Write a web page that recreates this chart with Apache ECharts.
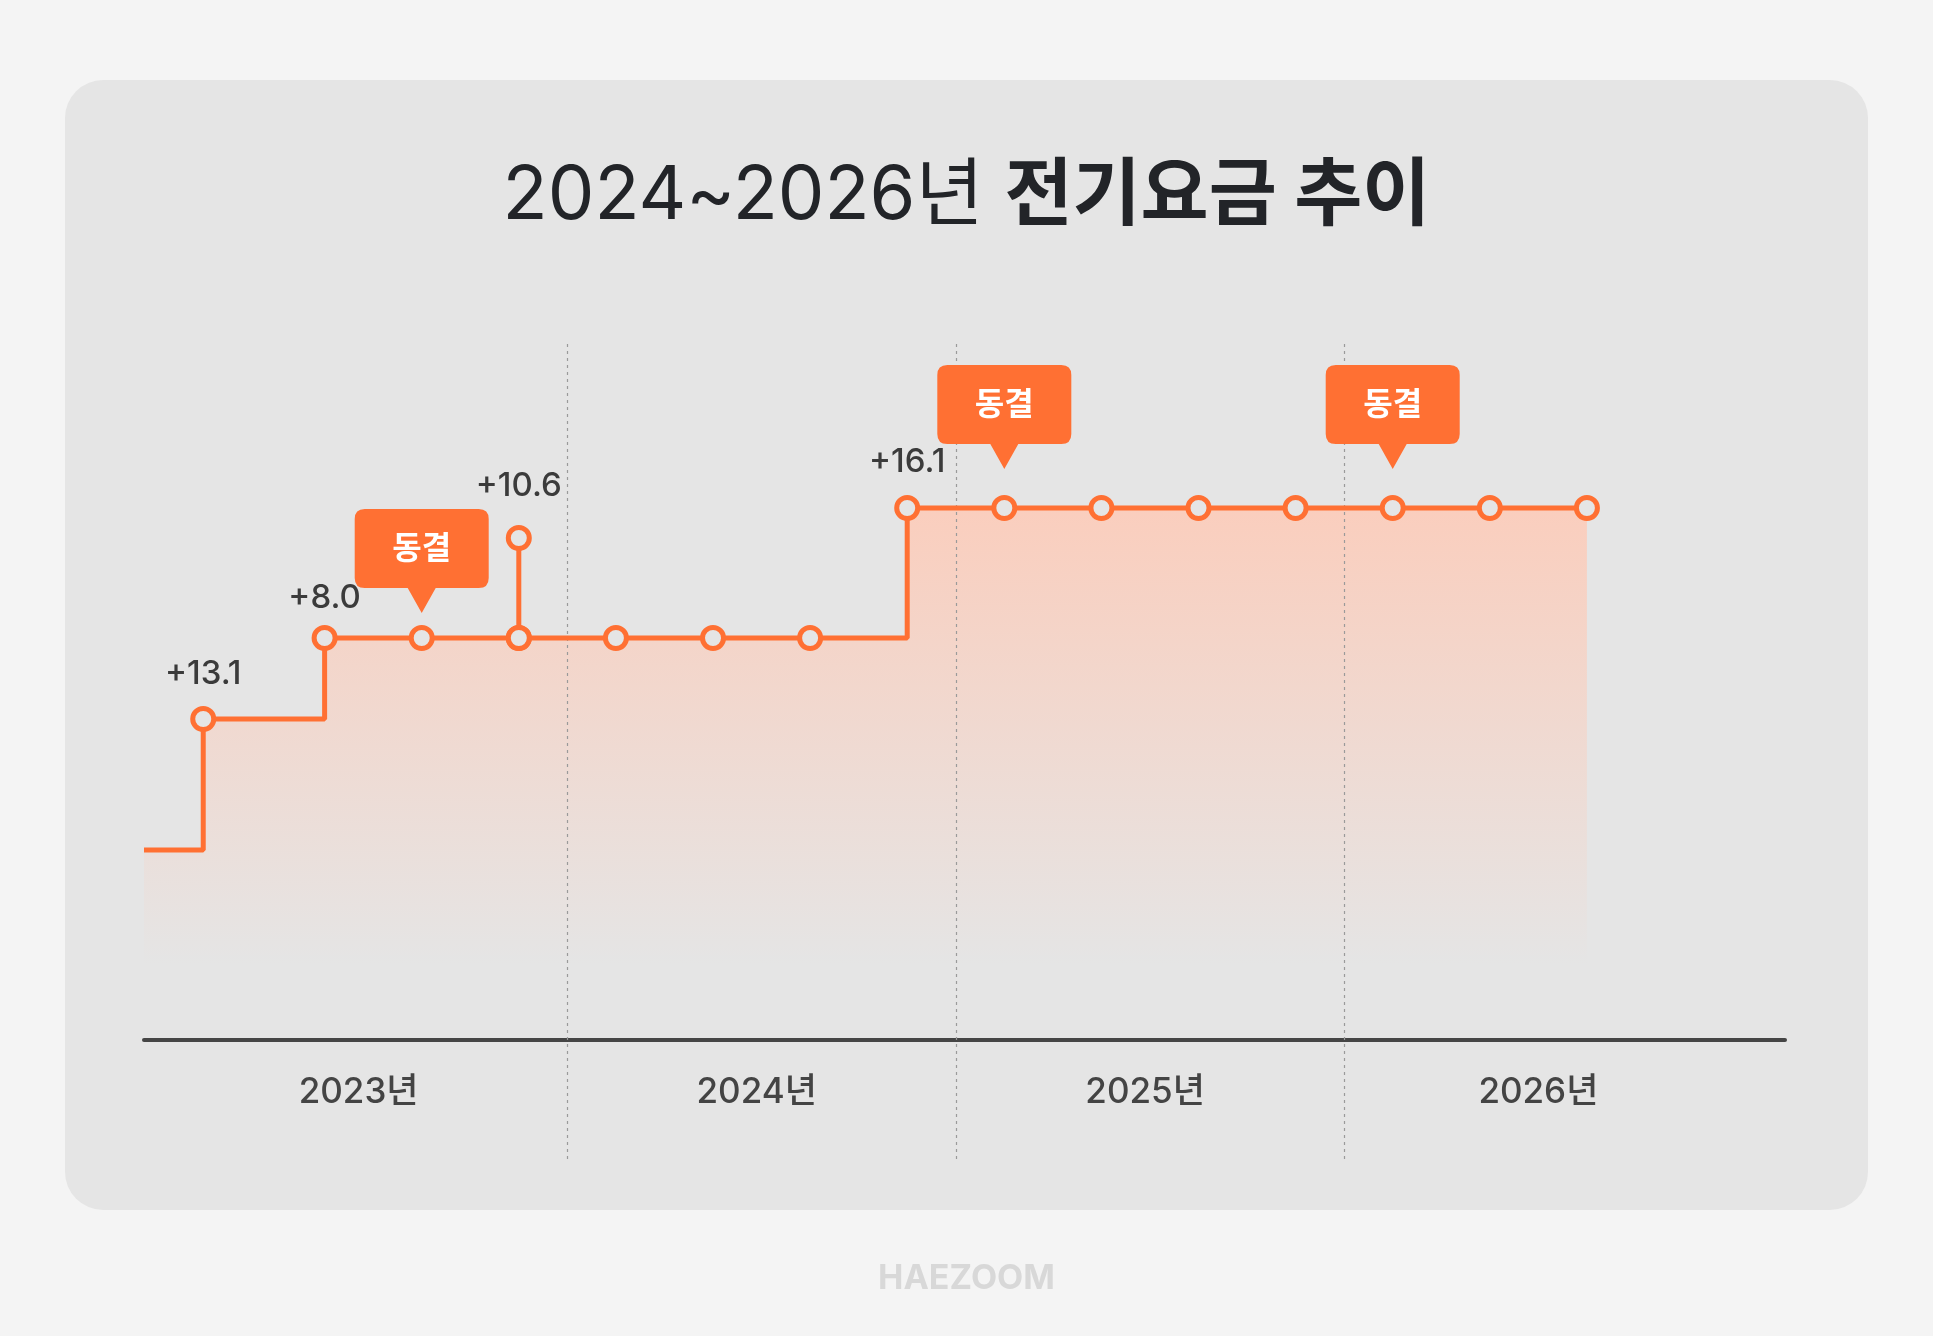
<!DOCTYPE html>
<html>
<head>
<meta charset="utf-8">
<script src="https://cdn.jsdelivr.net/npm/echarts@6/dist/echarts.min.js"></script>
<style>
html,body{margin:0;padding:0;background:#f4f4f4;}
#c{width:1933px;height:1336px;}
</style>
</head>
<body>
<div id="c"></div>
<script>
// ---- data (x in quarters from start of 2023, y = relative tariff level) ----
const stepX     = [-0.36, 0.25, 1.5, 2.5, 3.5, 3.5, 3.5, 4.5, 5.5, 6.5, 7.5, 8.5, 9.5, 10.5, 11.5, 12.5, 13.5, 14.5];
const stepLevel = [19.0, 32.1, 40.2, 40.2, 40.2, 50.2, 40.2, 40.2, 40.2, 40.2, 53.2, 53.2, 53.2, 53.2, 53.2, 53.2, 53.2, 53.2];
const stepLabel = ['', '+13.1', '+8.0', '', '', '+10.6', '', '', '', '', '+16.1', '', '', '', '', '', '', ''];
const freezeX     = [2.5, 8.5, 12.5];
const freezeLevel = [40.2, 53.2, 53.2];
const freezeText  = ['동결', '동결', '동결'];
const yearCenters = [1.85, 5.95, 9.95, 14.0];
const yearLabels  = ['2023년', '2024년', '2025년', '2026년'];
const yearBounds  = [4, 8, 12];
const yearLabelLevel = -5.2;

const ORANGE = '#ff7033';
const FONT = "Inter, 'Noto Sans CJK KR', sans-serif";
const labelDist = {1: 15, 2: 10, 5: 22, 10: 16};
const freezeGap = [25, 39, 39];

const chart = echarts.init(document.getElementById('c'), null, {renderer: 'canvas'});

const lineData = stepX.map((x, i) => {
  const item = {value: [x, stepLevel[i]]};
  if (i === 0) item.symbol = 'none';
  if (stepLabel[i]) {
    item.label = {show: true, formatter: stepLabel[i], position: 'top', distance: labelDist[i] || 17};
  }
  return item;
});

const calloutPath = 'path://M10,0 L124,0 Q134,0 134,10 L134,69 Q134,79 124,79 L81,79 L67,104 L53,79 L10,79 Q0,79 0,69 L0,10 Q0,0 10,0 Z';

const freezeData = freezeX.map((x, i) => ({
  value: [x, freezeLevel[i]],
  symbolOffset: [0, -(freezeGap[i] + 52)],
  label: {formatter: freezeText[i]}
}));

chart.setOption({
  backgroundColor: '#f4f4f4',
  animation: false,
  graphic: [
    {type: 'rect', z: -10, silent: true,
     shape: {x: 65, y: 80, width: 1803, height: 1130, r: 38},
     style: {fill: '#e5e5e5'}},
    {type: 'text', z: -5, silent: true, left: 'center', top: 1262,
     style: {text: 'HAEZOOM', fontSize: 34, fontWeight: 'bold', fontFamily: FONT, fill: '#d8d8d8'}}
  ],
  title: {
    left: 'center', top: 155,
    text: '{r|2024~2026년 }{b|전기요금 추이}',
    textStyle: {
      rich: {
        r: {fontSize: 74, fontWeight: 400, color: '#222428', fontFamily: FONT},
        b: {fontSize: 74, fontWeight: 700, color: '#222428', fontFamily: FONT}
      }
    }
  },
  grid: {left: 144, right: 148, top: 341, bottom: 177},
  xAxis: {
    type: 'value', min: -0.36, max: 16.54,
    axisLine: {show: true, onZero: true, lineStyle: {color: '#454545', width: 4}},
    axisTick: {show: false}, axisLabel: {show: false}, splitLine: {show: false}
  },
  yAxis: {
    type: 'value', min: -11.9, max: 69.9, show: false,
    splitLine: {show: false}
  },
  series: [
    {
      type: 'line', z: 1, silent: true,
      data: stepX.map((x, i) => [x, stepLevel[i]]),
      step: 'end', symbol: 'none',
      lineStyle: {width: 0},
      areaStyle: {
        opacity: 1,
        color: {type: 'linear', x: 0, y: 508, x2: 0, y2: 965, global: true,
          colorStops: [{offset: 0, color: 'rgba(252,204,186,0.92)'}, {offset: 1, color: 'rgba(252,204,186,0)'}]}
      },
      markLine: {
        silent: true, symbol: 'none', label: {show: false},
        lineStyle: {type: [3, 4], color: '#9a9a9a', width: 1.2},
        data: yearBounds.map(v => ({xAxis: v}))
      }
    },
    {
      type: 'line', z: 5, silent: true,
      data: lineData,
      step: 'end',
      symbol: 'circle', symbolSize: 21,
      lineStyle: {color: ORANGE, width: 5},
      itemStyle: {color: '#e5e5e5', borderColor: ORANGE, borderWidth: 5},
      label: {show: false, color: '#3b3b3b', fontSize: 33, fontFamily: FONT, fontWeight: 500},
      emphasis: {disabled: true}
    },
    {
      type: 'scatter', z: 8, silent: true,
      data: freezeData,
      symbol: calloutPath, symbolSize: [134, 104], symbolKeepAspect: false,
      itemStyle: {color: ORANGE, opacity: 1},
      label: {show: true, position: 'inside', offset: [0, -12], color: '#ffffff',
              fontSize: 32, fontWeight: 'bold', fontFamily: FONT},
      emphasis: {disabled: true}
    },
    {
      type: 'scatter', z: 8, silent: true,
      data: yearCenters.map((x, i) => ({value: [x, yearLabelLevel], label: {formatter: yearLabels[i]}})),
      symbol: 'circle', symbolSize: 1,
      itemStyle: {color: 'rgba(0,0,0,0)', opacity: 1},
      label: {show: true, position: 'inside', color: '#444444', fontSize: 35, fontFamily: FONT, fontWeight: 500},
      emphasis: {disabled: true}
    }
  ]
});
</script>
</body>
</html>
